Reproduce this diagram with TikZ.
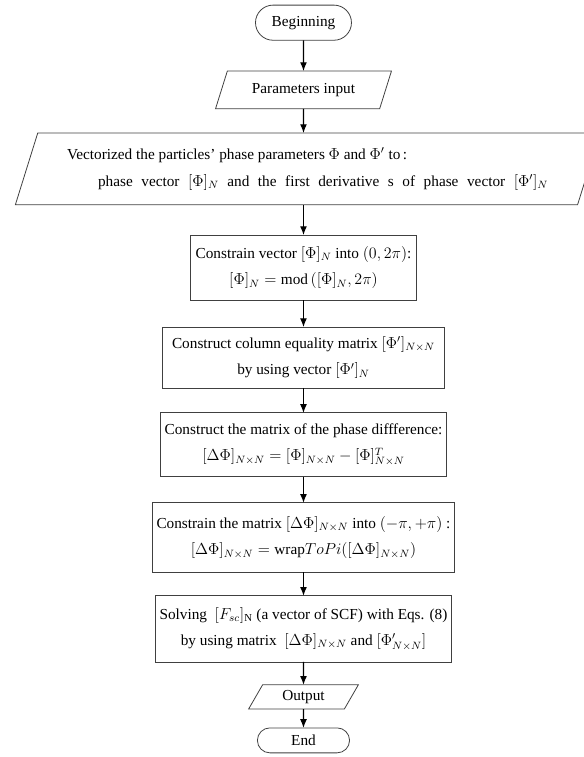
\documentclass[tikz,border=0pt]{standalone}
\usepackage{amsmath}
\usepackage{fontspec}
\setmainfont{Liberation Serif}
\usepackage{tikz}
\usetikzlibrary{arrows.meta,positioning,shapes.geometric,shapes.misc}
\tikzset{
    stepbox/.style={draw=black!75, line width=0.6pt, align=center,
    font=\fontsize{11.5pt}{20pt}\selectfont, inner sep=3pt, outer sep=0pt},
    terminal/.style={stepbox, rounded rectangle},
    iobox/.style={stepbox, trapezium, trapezium left angle=68,
    trapezium right angle=112, trapezium stretches=true},
    flow/.style={-{Latex[length=2.3mm,width=1.8mm]}, line width=0.8pt},
}

\begin{document}
\begin{tikzpicture}
            \clip (0,0) rectangle (15.45,-20.03);
            % --- start and input ---
            \node[terminal, minimum width=2.75cm, minimum height=0.93cm] (begin) at (8.03,-0.6) {Beginning};
            \node[iobox, minimum width=4.68cm, minimum height=1.0cm] (param) at (8.03,-2.38) {Parameters input};
            \node[iobox, minimum width=15.5cm, minimum height=1.9cm, align=left] (vect) at (8.14,-4.47)
                {Vectorized the particles' phase parameters $\Phi$ and $\Phi'$ to\,:\\
                \hspace*{0.82cm}{\spaceskip=0.56em\relax phase vector $[\Phi]_N$ and the first derivative s of phase vector $[\Phi']_N$}};
            % --- processing steps ---
            \node[stepbox, minimum width=5.98cm, minimum height=1.72cm] (cvec) at (8.03,-7.08)
                {Constrain vector $[\Phi]_N$ into $(0,2\pi)$:\\ $[\Phi]_N=\mathrm{mod}\,([\Phi]_N,2\pi)$};
            \node[stepbox, minimum width=7.46cm, minimum height=1.61cm] (col) at (8.03,-9.46)
                {Construct column equality matrix $[\Phi']_{N\times N}$\\ by using vector $[\Phi']_N$};
            \node[stepbox, minimum width=7.46cm, minimum height=1.69cm] (diff) at (8.03,-11.77)
                {Construct the matrix of the phase diffference:\\ $[\Delta\Phi]_{N\times N}=[\Phi]_{N\times N}-[\Phi]^T_{N\times N}$};
            \node[stepbox, minimum width=7.2cm, minimum height=1.83cm] (cmat) at (8.03,-14.22)
                {Constrain the matrix $[\Delta\Phi]_{N\times N}$ into $(-\pi,+\pi)$ :\\ $[\Delta\Phi]_{N\times N}=\mathrm{wrap}ToPi([\Delta\Phi]_{N\times N})$};
            \node[stepbox, minimum width=7.46cm, minimum height=1.75cm] (solve) at (8.03,-16.64)
                {Solving \ $[F_{sc}]_{\mathrm{N}}$ (a vector of SCF) with Eqs. (8)\\ by using matrix \ $[\Delta\Phi]_{N\times N}$ and $[\Phi'_{N\times N}]$};
            % --- output and end ---
            \node[iobox, minimum width=2.91cm, minimum height=0.64cm] (out) at (8.03,-18.44) {Output};
            \node[terminal, minimum width=2.65cm, minimum height=0.66cm] (end) at (8.03,-19.59) {End};
            % --- connectors ---
            \draw[flow] (begin) -- (param);
            \draw[flow] (param) -- (param |- vect.north);
            \draw[flow] (cvec |- vect.south) -- (cvec);
            \draw[flow] (cvec) -- (col);
            \draw[flow] (col) -- (diff);
            \draw[flow] (diff) -- (cmat);
            \draw[flow] (cmat) -- (solve);
            \draw[flow] (solve) -- (out);
            \draw[flow] (out) -- (end);
\end{tikzpicture}
\end{document}
